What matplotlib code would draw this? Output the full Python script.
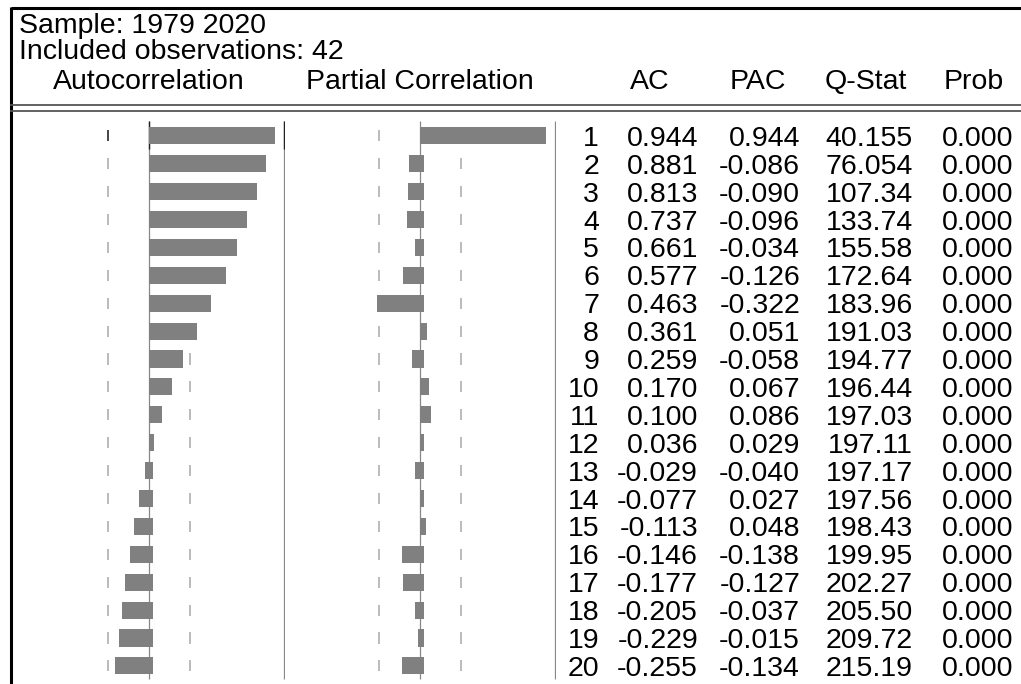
import numpy as np
import matplotlib
matplotlib.use("Agg")
import matplotlib.pyplot as plt

plt.rcParams['font.family'] = ['Liberation Sans', 'DejaVu Sans']

# correlogram output
sample_label = "Sample: 1979 2020"
nobs = 42
lags = np.arange(1, 21)
ac = [0.944, 0.881, 0.813, 0.737, 0.661, 0.577, 0.463, 0.361, 0.259, 0.170,
      0.100, 0.036, -0.029, -0.077, -0.113, -0.146, -0.177, -0.205, -0.229, -0.255]
pac = [0.944, -0.086, -0.090, -0.096, -0.034, -0.126, -0.322, 0.051, -0.058, 0.067,
       0.086, 0.029, -0.040, 0.027, 0.048, -0.138, -0.127, -0.037, -0.015, -0.134]
qstat = [40.155, 76.054, 107.34, 133.74, 155.58, 172.64, 183.96, 191.03, 194.77, 196.44,
         197.03, 197.11, 197.17, 197.56, 198.43, 199.95, 202.27, 205.50, 209.72, 215.19]
prob = [0.000] * 20
col_headers = ["AC", "PAC", "Q-Stat", "Prob"]

W, H = 1021, 684
DPI = 100
FS = 20.5
BAR = '#808080'
GRID = '#888888'
TICK = '#a8a8a8'

# pixel layout of the table
row1_y, row_h = 135.8, 27.9
top_y, line_end_y = 121, 679


def px_to_lag(y):
    return 1 + (y - row1_y) / row_h


def fig_box(x0, x1, y0, y1):
    return [x0 / W, 1 - y1 / H, (x1 - x0) / W, (y1 - y0) / H]


fig = plt.figure(figsize=(W / DPI, H / DPI), dpi=DPI)
fig.patch.set_facecolor('white')

# header area in pixel coordinates
bg = fig.add_axes([0, 0, 1, 1])
bg.set_xlim(0, W)
bg.set_ylim(H, 0)
bg.axis('off')
bg.plot([11, W], [8, 8], color='black', lw=2.2, solid_capstyle='butt')
bg.plot([11, 11], [7, H], color='black', lw=2.2, solid_capstyle='butt')
bg.plot([11, W], [105, 105], color='#555555', lw=1.3)
bg.plot([11, W], [111, 111], color='#555555', lw=1.3)
bg.text(19, 33, sample_label, fontsize=FS, va='baseline', ha='left')
bg.text(19, 59, f"Included observations: {nobs}", fontsize=FS, va='baseline', ha='left')
bg.text(149, 89, "Autocorrelation", fontsize=FS, va='baseline', ha='center')
bg.text(420, 89, "Partial Correlation", fontsize=FS, va='baseline', ha='center')
for x, h in zip([650, 758, 866, 974], col_headers):
    bg.text(x, 89, h, fontsize=FS, va='baseline', ha='center')

ylim = (px_to_lag(H), px_to_lag(top_y))
y_end = px_to_lag(line_end_y)
band = 2 / np.sqrt(nobs)
xr = 1.0226
bar_h = 0.61
tick_h = 0.2


def draw_bars(ax, vals, highlight=False):
    vals = np.asarray(vals)
    ax.set_xlim(-xr, xr)
    ax.set_ylim(*ylim)
    ax.axis('off')
    ax.vlines([0, xr - 0.004], ylim[1], y_end, color=GRID, lw=0.9, zorder=1)
    for b in (-band, band):
        ax.vlines(np.full(len(lags), b), lags - tick_h, lags + tick_h,
                  color=TICK, lw=1.1, zorder=1)
    if highlight:
        # first row is drawn in black
        ax.vlines([0, xr - 0.004], ylim[1], 1.47, color='#222222', lw=1.0, zorder=1.5)
        ax.vlines(-band, 1 - tick_h, 1 + tick_h, color='#333333', lw=1.2, zorder=1.5)
    left = np.where(vals < 0, 0.03, 0.0)
    ax.barh(lags, vals - left, left=left, height=bar_h, color=BAR, zorder=2)


ax_ac = fig.add_axes(fig_box(13, 285, top_y, H))
draw_bars(ax_ac, ac, highlight=True)
ax_pac = fig.add_axes(fig_box(284, 556, top_y, H))
draw_bars(ax_pac, pac)

# numeric columns
tab = fig.add_axes(fig_box(556, W, top_y, H))
tab.set_xlim(556, W)
tab.set_ylim(*ylim)
tab.axis('off')


def fmt_q(q):
    return f"{q:.{5 - len(str(int(q)))}f}"


for i, lag in enumerate(lags):
    y = lag + 0.36
    cells = [str(lag), f"{ac[i]:.3f}", f"{pac[i]:.3f}", fmt_q(qstat[i]), f"{prob[i]:.3f}"]
    for x, s in zip([599, 698, 800, 913, 1013], cells):
        tab.text(x, y, s, fontsize=FS, ha='right', va='baseline')

fig.savefig('out.png', dpi=DPI)
